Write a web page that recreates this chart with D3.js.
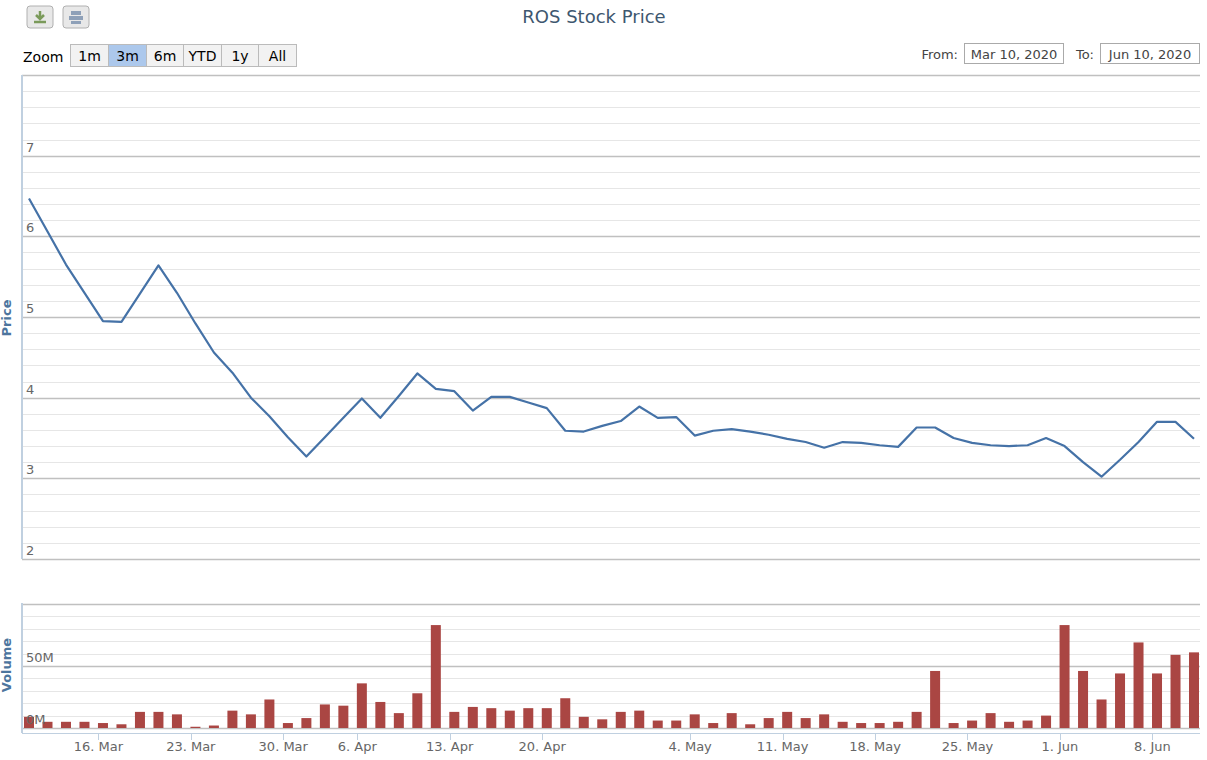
<!DOCTYPE html>
<html>
<head>
<meta charset="utf-8">
<title>ROS Stock Price</title>
<style>
  body { margin: 0; background: #fff; font-family: "DejaVu Sans", Verdana, sans-serif; }
  svg text { font-family: "DejaVu Sans", Verdana, sans-serif; }
</style>
</head>
<body>
<svg id="chart" width="1207" height="760"></svg>
<script src="https://cdn.jsdelivr.net/npm/d3@7"></script>
<script>
var dates = ["2020-03-10","2020-03-11","2020-03-12","2020-03-13",
  "2020-03-16","2020-03-17","2020-03-18","2020-03-19","2020-03-20",
  "2020-03-23","2020-03-24","2020-03-25","2020-03-26","2020-03-27",
  "2020-03-30","2020-03-31","2020-04-01","2020-04-02",
  "2020-04-06","2020-04-07","2020-04-08","2020-04-09","2020-04-10",
  "2020-04-13","2020-04-14","2020-04-15","2020-04-16","2020-04-17",
  "2020-04-20","2020-04-21","2020-04-22","2020-04-23","2020-04-24","2020-04-27","2020-04-28","2020-04-29",
  "2020-05-04","2020-05-05","2020-05-06","2020-05-07","2020-05-08",
  "2020-05-11","2020-05-12","2020-05-13","2020-05-14","2020-05-15",
  "2020-05-18","2020-05-19","2020-05-20","2020-05-21","2020-05-22",
  "2020-05-25","2020-05-26","2020-05-27","2020-05-28","2020-05-29",
  "2020-06-01","2020-06-02","2020-06-03","2020-06-04","2020-06-05",
  "2020-06-08","2020-06-09","2020-06-10"];

var prices = [6.47,6.06,5.65,5.30,4.95,4.94,5.29,5.64,5.30,4.92,
  4.56,4.31,4.00,3.77,3.51,3.27,3.51,3.75,3.99,3.75,
  4.02,4.30,4.11,4.08,3.84,4.01,4.01,3.94,3.87,3.59,
  3.58,3.65,3.71,3.89,3.75,3.76,3.53,3.59,3.61,3.58,
  3.54,3.49,3.45,3.38,3.45,3.44,3.41,3.39,3.63,3.63,
  3.50,3.44,3.41,3.40,3.41,3.50,3.40,3.20,3.02,3.23,
  3.45,3.70,3.70,3.49];

// volume in millions
var volumes = [9,5,5,5,4,3,13,13,11,1,
  2,14,11,23,4,8,19,18,36,21,
  12,28,83,13,17,16,14,16,16,24,
  9,7,13,14,6,6,11,4,12,3,
  8,13,8,11,5,4,4,5,13,46,
  4,6,12,5,6,10,83,46,23,44,
  69,44,59,61];

var tickDates = ["2020-03-16","2020-03-23","2020-03-30","2020-04-06","2020-04-13","2020-04-20",
  "2020-05-04","2020-05-11","2020-05-18","2020-05-25","2020-06-01","2020-06-08"];
var tickLabels = ["16. Mar","23. Mar","30. Mar","6. Apr","13. Apr","20. Apr",
  "4. May","11. May","18. May","25. May","1. Jun","8. Jun"];
var priceTicks = [2,3,4,5,6,7];
var volumeTicks = [0,50];

var svg = d3.select("#chart");
var left = 22, right = 1200;

var x = d3.scaleLinear().domain([0, dates.length - 1]).range([29, 1194]);
var yP = d3.scaleLinear().domain([2, 8]).range([559, 75]);
var yV = d3.scaleLinear().domain([0, 100]).range([728, 604]);

// price grid
d3.range(2, 8.001, 0.2).forEach(function(v){
  var major = Math.abs(v - Math.round(v)) < 0.01;
  svg.append("line").attr("x1", left).attr("x2", right)
    .attr("y1", Math.round(yP(v)) + 0.5).attr("y2", Math.round(yP(v)) + 0.5)
    .attr("stroke", major ? "#c0c0c0" : "#e6e6e6").attr("stroke-width", major ? 1.5 : 1);
});
svg.selectAll(".pt").data(priceTicks).enter().append("text")
  .attr("x", 26).attr("y", function(d){ return yP(d) - 4; })
  .attr("font-size", 13).attr("fill", "#666").text(function(d){ return d; });

// volume grid
d3.range(0, 100.001, 10).forEach(function(v){
  var major = v % 50 === 0;
  svg.append("line").attr("x1", left).attr("x2", right)
    .attr("y1", Math.round(yV(v)) + 0.5).attr("y2", Math.round(yV(v)) + 0.5)
    .attr("stroke", major ? "#c0c0c0" : "#e6e6e6").attr("stroke-width", major ? 1.5 : 1);
});

// axis lines
svg.append("line").attr("x1", left).attr("x2", left).attr("y1", 75).attr("y2", 559)
  .attr("stroke", "#c0d0e0").attr("stroke-width", 2);
svg.append("line").attr("x1", left).attr("x2", left).attr("y1", 603).attr("y2", 733)
  .attr("stroke", "#c0d0e0").attr("stroke-width", 2);
svg.append("line").attr("x1", left).attr("x2", right).attr("y1", 733.5).attr("y2", 733.5)
  .attr("stroke", "#c0d0e0");

// volume bars
svg.selectAll(".bar").data(volumes).enter().append("rect")
  .attr("x", function(d, i){ return x(i) - 5; })
  .attr("width", 10)
  .attr("y", function(d){ return yV(d); })
  .attr("height", function(d){ return yV(0) - yV(d); })
  .attr("fill", "#aa4643");

svg.selectAll(".vt").data(volumeTicks).enter().append("text")
  .attr("x", 26).attr("y", function(d){ return yV(d) - 4; })
  .attr("font-size", 13).attr("fill", "#666").text(function(d){ return d + "M"; });

// price line
svg.append("defs").append("clipPath").attr("id", "clipP").append("rect")
  .attr("x", left).attr("y", 75).attr("width", right - left).attr("height", 484);
svg.append("path").datum(prices)
  .attr("clip-path", "url(#clipP)")
  .attr("d", d3.line().x(function(d, i){ return x(i); }).y(function(d){ return yP(d); }))
  .attr("fill", "none").attr("stroke", "#4572a7").attr("stroke-width", 2.2)
  .attr("stroke-linejoin", "round");

// x ticks
var tickIdx = tickDates.map(function(d){ return dates.indexOf(d); });
svg.selectAll(".xt").data(tickIdx).enter().append("line")
  .attr("x1", function(d){ return Math.round(x(d - 0.25)) + 0.5; })
  .attr("x2", function(d){ return Math.round(x(d - 0.25)) + 0.5; })
  .attr("y1", 733).attr("y2", 740).attr("stroke", "#c0d0e0");
svg.selectAll(".xl").data(tickIdx).enter().append("text")
  .attr("x", function(d){ return x(d - 0.25); }).attr("y", 751)
  .attr("text-anchor", "middle").attr("font-size", 13).attr("fill", "#666")
  .text(function(d, i){ return tickLabels[i]; });

// axis titles
svg.append("text").attr("transform", "translate(11,318) rotate(-90)")
  .attr("text-anchor", "middle").attr("font-size", 13).attr("font-weight", "bold")
  .attr("fill", "#4d759e").text("Price");
svg.append("text").attr("transform", "translate(11,665) rotate(-90)")
  .attr("text-anchor", "middle").attr("font-size", 13).attr("font-weight", "bold")
  .attr("fill", "#4d759e").text("Volume");

// title
svg.append("text").attr("x", 594).attr("y", 23).attr("text-anchor", "middle")
  .attr("font-size", 18).attr("fill", "#3e576f").text("ROS Stock Price");

// export buttons
[27, 63].forEach(function(bx, k){
  svg.append("rect").attr("x", bx).attr("y", 6).attr("width", 26).attr("height", 22).attr("rx", 3)
    .attr("fill", "#e8e8e8").attr("stroke", "#b0b0b0");
  if (k === 0) {
    svg.append("path").attr("d", "M" + (bx+13) + ",11 v8 M" + (bx+9) + ",15 l4,4 l4,-4 M" + (bx+7) + ",22 h12")
      .attr("stroke", "#7a9a5a").attr("stroke-width", 2.5).attr("fill", "none");
  } else {
    svg.append("rect").attr("x", bx+8).attr("y", 11).attr("width", 10).attr("height", 4).attr("fill", "#8ea0b8");
    svg.append("rect").attr("x", bx+6).attr("y", 16).attr("width", 14).attr("height", 4).attr("fill", "#8ea0b8");
    svg.append("rect").attr("x", bx+8).attr("y", 21).attr("width", 10).attr("height", 3).attr("fill", "#8ea0b8");
  }
});

// zoom buttons
var zoomLabels = ["1m","3m","6m","YTD","1y","All"];
var zoomX = [70, 108, 146, 183, 221, 258, 296];
svg.append("text").attr("x", 23).attr("y", 62).attr("font-size", 14).attr("fill", "#000").text("Zoom");
zoomLabels.forEach(function(l, i){
  svg.append("rect").attr("x", zoomX[i] + 0.5).attr("y", 44.5)
    .attr("width", zoomX[i+1] - zoomX[i]).attr("height", 22)
    .attr("fill", i === 1 ? "#acc8ec" : "#f2f2f2").attr("stroke", "#bbb");
  svg.append("text").attr("x", (zoomX[i] + zoomX[i+1]) / 2 + 0.5).attr("y", 61)
    .attr("text-anchor", "middle").attr("font-size", 14).attr("fill", "#000").text(l);
});

// range inputs
svg.append("text").attr("x", 958).attr("y", 59).attr("text-anchor", "end")
  .attr("font-size", 13).attr("fill", "#444").text("From:");
svg.append("rect").attr("x", 964.5).attr("y", 43.5).attr("width", 99).attr("height", 20)
  .attr("fill", "#fff").attr("stroke", "#aaa");
svg.append("text").attr("x", 1014).attr("y", 59).attr("text-anchor", "middle")
  .attr("font-size", 13).attr("fill", "#444").text("Mar 10, 2020");
svg.append("text").attr("x", 1094).attr("y", 59).attr("text-anchor", "end")
  .attr("font-size", 13).attr("fill", "#444").text("To:");
svg.append("rect").attr("x", 1100.5).attr("y", 43.5).attr("width", 99).attr("height", 20)
  .attr("fill", "#fff").attr("stroke", "#aaa");
svg.append("text").attr("x", 1150).attr("y", 59).attr("text-anchor", "middle")
  .attr("font-size", 13).attr("fill", "#444").text("Jun 10, 2020");
</script>
</body>
</html>
